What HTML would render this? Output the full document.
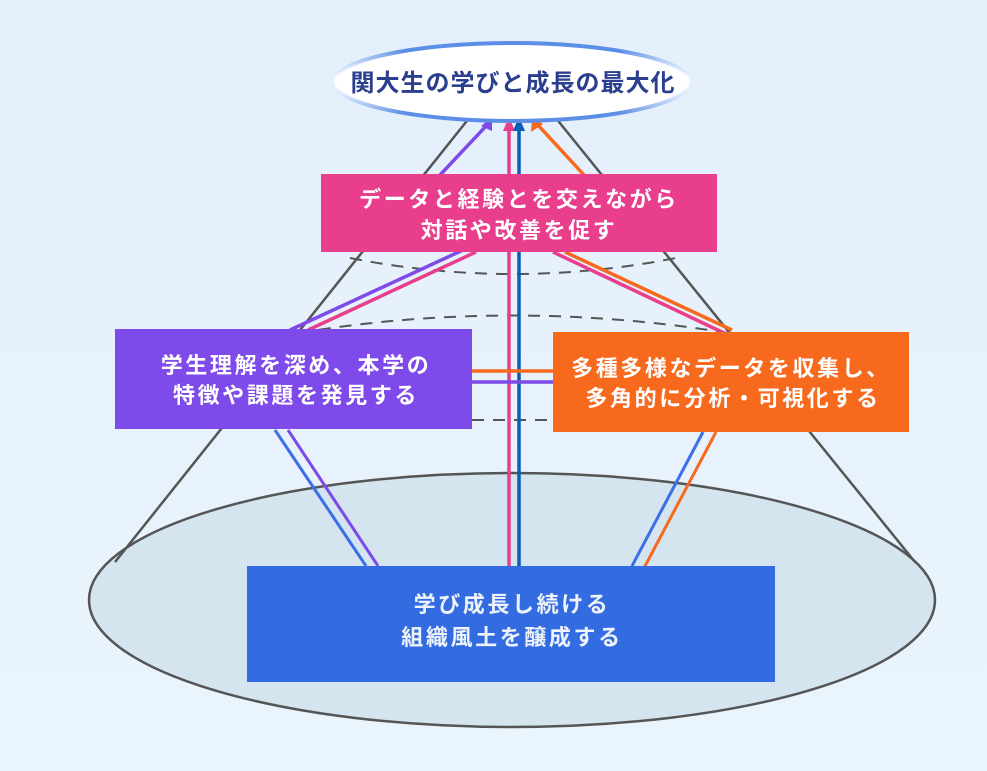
<!DOCTYPE html>
<html><head><meta charset="utf-8"><style>
html,body{margin:0;padding:0;width:987px;height:771px;overflow:hidden;background:#e8f2fc;}
svg{display:block}
text{font-family:"Liberation Sans","Noto Sans CJK JP",sans-serif;font-weight:bold;text-anchor:middle}
.w{font-size:22px;letter-spacing:2.6px}
</style></head><body>
<svg width="987" height="771" viewBox="0 0 987 771" xmlns="http://www.w3.org/2000/svg">
<defs>
<linearGradient id="bg" x1="0" y1="0" x2="0" y2="1"><stop offset="0" stop-color="#e4effb"/><stop offset="1" stop-color="#eaf4fd"/></linearGradient>
<linearGradient id="es" x1="0" y1="0" x2="1" y2="0"><stop offset="0" stop-color="#5b8ee6" stop-opacity="0"/><stop offset="0.2" stop-color="#5b8ee6"/><stop offset="0.8" stop-color="#5b8ee6"/><stop offset="1" stop-color="#5b8ee6" stop-opacity="0"/></linearGradient>
</defs>
<rect width="987" height="771" fill="url(#bg)"/>
<ellipse cx="512" cy="600" rx="423" ry="127" fill="#d4e5ef" stroke="#555" stroke-width="2.5"/>
<line x1="470" y1="117" x2="115" y2="562" stroke="#555" stroke-width="2.5"/>
<line x1="555" y1="117" x2="915" y2="562" stroke="#555" stroke-width="2.5"/>
<path d="M350 258 Q512 290 676 258" fill="none" stroke="#555" stroke-width="2" stroke-dasharray="12 9"/>
<path d="M298 333 Q512 298 728 333" fill="none" stroke="#555" stroke-width="2" stroke-dasharray="12 9"/>
<line x1="472" y1="420" x2="553" y2="420" stroke="#555" stroke-width="2" stroke-dasharray="12 9"/>
<g stroke-width="3.5" fill="none">
<line x1="290" y1="330" x2="463" y2="250" stroke="#7f4aea"/>
<line x1="440" y1="175" x2="488" y2="124" stroke="#7f4aea"/>
<line x1="308" y1="330" x2="476" y2="252" stroke="#e83e8c"/>
<line x1="553" y1="252" x2="724" y2="333" stroke="#e83e8c"/>
<line x1="565" y1="252" x2="732" y2="330" stroke="#f76a1e"/>
<line x1="584" y1="175" x2="537" y2="124" stroke="#f76a1e"/>
<line x1="509" y1="574" x2="509" y2="126" stroke="#e83e8c"/>
<line x1="519" y1="575" x2="519" y2="126" stroke="#0b5cb5"/>
<line x1="472" y1="371" x2="553" y2="371" stroke="#f76a1e"/>
<line x1="472" y1="382" x2="553" y2="382" stroke="#7f4aea"/>
<line x1="275" y1="430" x2="366" y2="566" stroke="#3a6fe8" stroke-width="3"/>
<line x1="288" y1="430" x2="378" y2="566" stroke="#7f4aea" stroke-width="3"/>
<line x1="703" y1="432" x2="632" y2="566" stroke="#3a6fe8" stroke-width="3"/>
<line x1="716" y1="432" x2="644" y2="568" stroke="#f76a1e" stroke-width="3"/>
</g>
<polygon points="492,117 481,126 492,131" fill="#7f4aea"/>
<polygon points="509,117 503,131 515,131" fill="#e83e8c"/>
<polygon points="519,117 513,131 525,131" fill="#0b5cb5"/>
<polygon points="532,117 531,132 543,124" fill="#f76a1e"/>
<ellipse cx="512" cy="82" rx="178" ry="39" fill="#fff" stroke="url(#es)" stroke-width="4"/>
<text x="513" y="91" font-size="24" letter-spacing="1" fill="#2b3f8f">関大生の学びと成長の最大化</text>
<rect x="321" y="174" width="396" height="78" fill="#e83e8c"/>
<text class="w" x="519" y="207" fill="#fff">データと経験とを交えながら</text>
<text class="w" x="519" y="238" fill="#fff">対話や改善を促す</text>
<rect x="115" y="329" width="357" height="100" fill="#7f4aea"/>
<text class="w" x="296" y="373" fill="#fff">学生理解を深め、本学の</text>
<text class="w" x="296" y="403" fill="#fff">特徴や課題を発見する</text>
<rect x="553" y="332" width="356" height="100" fill="#f76a1e"/>
<text class="w" x="731" y="376" fill="#fff">多種多様なデータを収集し、</text>
<text class="w" x="733" y="406" fill="#fff">多角的に分析・可視化する</text>
<rect x="247" y="566" width="528" height="116" fill="#336be0"/>
<text class="w" x="512" y="612" fill="#eef2fa">学び成長し続ける</text>
<text class="w" x="512" y="645" fill="#eef2fa">組織風土を醸成する</text>
</svg>
</body></html>
